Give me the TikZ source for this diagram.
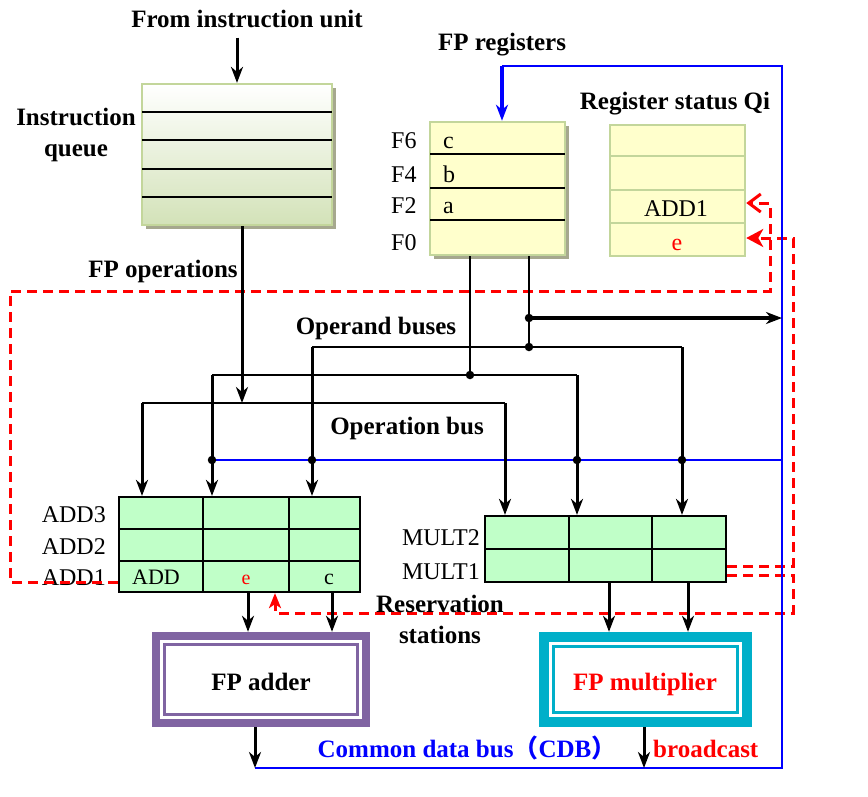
\documentclass[tikz,border=0pt]{standalone}
\usepackage{fontspec}
\setmainfont{Liberation Serif}
\newfontfamily\cjkfont{Noto Sans CJK SC}
\usepackage{tikz}
\usetikzlibrary{arrows.meta, positioning, shadows}

\definecolor{boxline}{HTML}{C3D69B}
\definecolor{queuegreen}{HTML}{D3E2B8}
\definecolor{regyellow}{HTML}{FFFFCC}
\definecolor{rsgreen}{HTML}{C0FFC8}
\definecolor{adderpurple}{HTML}{8064A2}
\definecolor{multteal}{HTML}{00AFC9}
\definecolor{shadowgray}{HTML}{A6A88E}

\begin{document}
\begin{tikzpicture}[x=1pt, y=-1pt,
    lbl/.style={font=\fontsize{25}{31}\selectfont\bfseries, inner sep=0pt},
    reglbl/.style={font=\fontsize{24}{28}\selectfont, inner sep=0pt, anchor=base},
    celltxt/.style={font=\fontsize{22}{24}\selectfont, inner sep=0pt, anchor=base},
    regbox/.style={rectangle, draw=boxline, line width=2.5pt, fill=regyellow,
                   minimum width=135pt, inner sep=0pt},
    rsbox/.style={rectangle, draw=black, line width=2.2pt, fill=rsgreen,
                  minimum width=241pt, inner sep=0pt},
    unitbox/.style={rectangle, inner sep=0pt},
    boxshadow/.style={drop shadow={shadow xshift=3.5pt, shadow yshift=-3.5pt,
                      fill=shadowgray, opacity=1}},
    junction/.style={circle, fill=black, inner sep=0pt, minimum size=8.5pt},
    arrow/.style={-{Stealth[length=16pt, width=12pt, inset=5pt]}, line width=3pt},
    wire/.style={line width=2.3pt},
    cdb/.style={blue, line width=2.2pt},
    tagline/.style={red, line width=3pt, dash pattern=on 10pt off 6pt}
]
\useasboundingbox (0,0) rectangle (868,796);

% instruction queue
\node[lbl, anchor=base] (fromiu) at (247,27) {From instruction unit};
\node[rectangle, draw=boxline, line width=2.2pt, top color=white, bottom color=queuegreen,
      minimum width=190pt, minimum height=141pt, boxshadow] (queue) at (237,154.5) {};
\foreach \y in {112,140,169,197}
    \draw[wire] (142,\y) -- (332,\y);
\node[lbl, align=center, anchor=base] (queuelbl) at (76,156) {Instruction\\queue};
\node[lbl, anchor=base] (fpoplbl) at (163,277) {FP operations};

% FP registers
\node[lbl, anchor=base] (fpreglbl) at (502,50) {FP registers};
\node[regbox, minimum height=133pt, boxshadow] (fpreg) at (497.5,188.5) {};
\foreach \y in {154,188,220}
    \draw[wire] (430,\y) -- (565,\y);
\foreach \r/\y in {F6/148, F4/182, F2/213, F0/250}
    \node[reglbl, anchor=base west] (\r) at (391,\y) {\r};
\foreach \v/\y in {c/148, b/182, a/213}
    \node[reglbl, anchor=base west] (val\v) at (443,\y) {\v};

% register status
\node[lbl, anchor=base] (qilbl) at (675,109) {Register status Qi};
\node[regbox, minimum height=131pt] (regstat) at (677.5,190.5) {};
\foreach \y in {156,190,223}
    \draw[boxline, line width=2.5pt] (610,\y) -- (745,\y);
\node[reglbl] (qiadd) at (676,216) {ADD1};
\node[reglbl, red] (qie) at (677,250) {e};

% reservation stations
\node[rsbox, minimum height=95pt] (rsadd) at (239.5,544.5) {};
\draw[wire] (119,529) -- (360,529);
\draw[wire] (119,561) -- (360,561);
\draw[wire] (203,497) -- (203,592);
\draw[wire] (289,497) -- (289,592);
\foreach \r/\y in {ADD3/522, ADD2/554, ADD1/585}
    \node[reglbl, anchor=base east] (\r) at (106,\y) {\r};
\node[celltxt] (opadd) at (156,584) {ADD};
\node[celltxt, red, font=\fontsize{20}{22}\selectfont] (tage) at (246,584) {e};
\node[celltxt] (valc) at (329,584) {c};

\node[rsbox, minimum height=66pt] (rsmul) at (605.5,549) {};
\draw[wire] (485,549) -- (726,549);
\draw[wire] (569,516) -- (569,582);
\draw[wire] (652,516) -- (652,582);
\foreach \r/\y in {MULT2/545, MULT1/579}
    \node[reglbl, anchor=base east] (\r) at (480,\y) {\r};

% functional units
\node[unitbox, fill=adderpurple, minimum width=218pt, minimum height=95pt] (adder) at (261,679.5) {};
\node[unitbox, fill=white, minimum width=202pt, minimum height=79pt] (adderin) at (adder) {};
\node[unitbox, draw=adderpurple, line width=3pt, minimum width=193pt, minimum height=70pt] (adderrim) at (adder) {};
\node[lbl, anchor=base] (adderlbl) at (261,690) {FP adder};

\node[unitbox, fill=multteal, minimum width=213pt, minimum height=95pt] (mult) at (645.5,679.5) {};
\node[unitbox, fill=white, minimum width=193pt, minimum height=75pt] (multin) at (mult) {};
\node[unitbox, draw=multteal, line width=3pt, minimum width=184pt, minimum height=66pt] (multrim) at (mult) {};
\node[lbl, anchor=base, red] (multlbl) at (645,690) {FP multiplier};

% bus points
\coordinate (optap) at (242,403);
\coordinate (opL)   at (142,403);
\coordinate (opR)   at (505,403);
\coordinate (srcA)  at (470,375);
\coordinate (aL)    at (212,375);
\coordinate (aR)    at (577,375);
\coordinate (srcB)  at (529,347);
\coordinate (bL)    at (312,347);
\coordinate (bR)    at (682,347);
\coordinate (bOut)  at (529,318);
\coordinate (cdbL)  at (212,460);
\coordinate (cdbR)  at (782,460);
\coordinate (cdbTop) at (782,66);
\coordinate (cdbBot) at (782,768);
\coordinate (regin) at (502,66);
\coordinate (addA)  at (248,592);
\coordinate (addB)  at (332,592);
\coordinate (mulA)  at (609,582);
\coordinate (mulB)  at (688,582);
\coordinate (addOut) at (255,727);
\coordinate (mulOut) at (644,727);

% result tags (red dashed)
\draw[tagline, -{Straight Barb[length=12pt, width=18pt, line width=3pt]}]
    ([yshift=-37.5pt]rsadd.west) -- (10,582) -- (10,291) -- (770,291) -- (770,203)
    -- ([yshift=-12.5pt]regstat.east);
\draw[tagline, -{Stealth[length=17pt, width=18pt, inset=5pt]}]
    ([yshift=-17pt]rsmul.east) -- (793,566) -- (793,238) -- ([yshift=-47.5pt]regstat.east);
\draw[tagline, -{Stealth[length=15pt, width=12pt, inset=4pt]}]
    ([yshift=-26pt]rsmul.east) -- (793,575) -- (793,613) -- (275,613)
    -- ([xshift=35.5pt]rsadd.south);

% common data bus
\draw[cdb] (cdbL) -- (cdbR);
\draw[cdb] (addOut |- cdbBot) -- (cdbBot) -- (cdbTop) -- (regin);
\draw[cdb, line width=3.2pt, -{Stealth[length=16pt, width=12pt, inset=5pt]}] (regin) -- (regin |- fpreg.north);

% instruction and operand buses
\draw[arrow] ([yshift=-10pt]fromiu.south -| queue.north) -- (queue.north);
\draw[arrow] (optap |- queue.south) -- (optap);
\draw[wire] (opL) -- (opR);
\draw[wire] (srcA |- fpreg.south) -- (srcA);
\draw[wire] (aL) -- (aR);
\draw[wire] (srcB |- fpreg.south) -- (srcB);
\draw[wire] (bL) -- (bR);
\draw[arrow, line width=4pt] (bOut) -- (bOut -| cdbR);
\foreach \p in {opL, aL, bL}
    \draw[arrow] (\p) -- (\p |- rsadd.north);
\foreach \p in {opR, aR, bR}
    \draw[arrow] (\p) -- (\p |- rsmul.north);
\foreach \p in {srcA, srcB, bOut}
    \node[junction] at (\p) {};
\foreach \x in {212, 312, 577, 682}
    \node[junction] at (\x,460) {};

% to units and onto the CDB
\foreach \p in {addA, addB}
    \draw[arrow] (\p) -- (\p |- adder.north);
\foreach \p in {mulA, mulB}
    \draw[arrow] (\p) -- (\p |- mult.north);
\draw[arrow] (addOut) -- (addOut |- cdbBot);
\draw[arrow] (mulOut) -- (mulOut |- cdbBot);

% bus labels
\node[lbl, anchor=base] (operandlbl) at (376,334) {Operand buses};
\node[lbl, anchor=base] (operationlbl) at (407,434) {Operation bus};
\node[lbl, align=center, anchor=base] (rslbl) at (440,643) {Reservation\\stations};
\node[lbl, anchor=base, blue] (cdblbl) at (467,757) {Common data bus{\cjkfont （}CDB{\cjkfont ）}};
\node[lbl, anchor=base west, red] (bcastlbl) at (653,757) {broadcast};
\end{tikzpicture}
\end{document}
